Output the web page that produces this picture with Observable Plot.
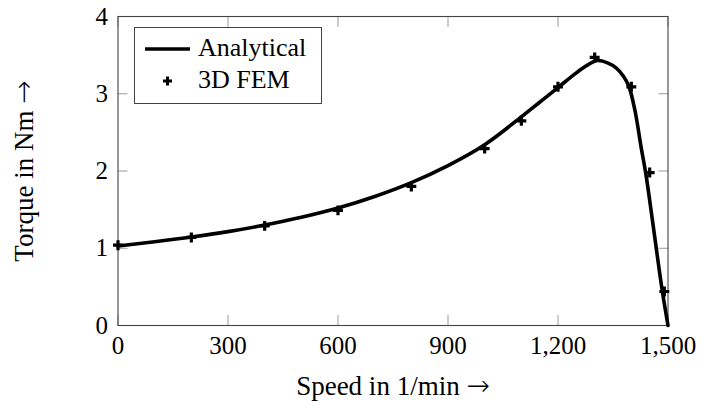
<!DOCTYPE html>
<html>
<head>
<meta charset="utf-8">
<script src="https://cdn.jsdelivr.net/npm/d3@7"></script>
<script src="https://cdn.jsdelivr.net/npm/@observablehq/plot@0.6"></script>
<style>
  html, body { margin: 0; padding: 0; background: white; }
  #wrap { position: relative; width: 716px; height: 401px; }
  #legend { position: absolute; left: 134px; top: 27px; }
</style>
</head>
<body>
<div id="wrap"></div>
<script>
// Analytical curve
const curveSpeed  = [0, 100, 200, 300, 400, 500, 600, 700, 800, 900, 1000, 1100, 1150, 1200, 1250, 1280, 1307, 1335, 1360, 1378, 1393, 1410, 1427, 1440, 1455, 1470, 1485, 1500];
const curveTorque = [1.03, 1.085, 1.145, 1.215, 1.30, 1.40, 1.52, 1.67, 1.85, 2.07, 2.34, 2.70, 2.89, 3.08, 3.27, 3.37, 3.43, 3.40, 3.33, 3.23, 3.10, 2.78, 2.30, 1.95, 1.45, 0.93, 0.43, 0];

// 3D FEM points
const femSpeed  = [0, 200, 400, 600, 800, 1000, 1100, 1200, 1300, 1400, 1450, 1490];
const femTorque = [1.04, 1.14, 1.29, 1.49, 1.80, 2.29, 2.65, 3.09, 3.47, 3.09, 1.98, 0.44];

const xTicks = [0, 300, 600, 900, 1200, 1500];
const yTicks = [0, 1, 2, 3, 4];
const xLabel = "Speed in 1/min →";
const yLabel = "Torque in Nm →";
const seriesNames = ["Analytical", "3D FEM"];

const curve = curveSpeed.map((s, i) => ({speed: s, torque: curveTorque[i]}));
const fem = femSpeed.map((s, i) => ({speed: s, torque: femTorque[i]}));

const font = "'Liberation Serif', 'Times New Roman', serif";
const fmt = d3.format(",");

const chart = Plot.plot({
  width: 716,
  height: 401,
  marginLeft: 117.5,
  marginRight: 48.5,
  marginTop: 16,
  marginBottom: 76,
  style: {fontFamily: font, fontSize: "25px", background: "white", color: "black"},
  x: {domain: [0, 1500]},
  y: {domain: [0, 4]},
  marks: [
    // inward ticks on all four sides
    Plot.axisX(xTicks, {anchor: "bottom", tickSize: -10, stroke: "#999", tickFormat: () => "", label: null}),
    Plot.axisX(xTicks, {anchor: "top", tickSize: -10, stroke: "#999", tickFormat: () => "", label: null}),
    Plot.axisY(yTicks, {anchor: "left", tickSize: -10, stroke: "#999", tickFormat: () => "", label: null}),
    Plot.axisY(yTicks, {anchor: "right", tickSize: -10, stroke: "#999", tickFormat: () => "", label: null}),
    // tick labels + axis labels
    Plot.axisX(xTicks, {anchor: "bottom", tickSize: 0, tickPadding: 11, tickFormat: fmt, fontSize: 25,
      label: xLabel, labelAnchor: "center", labelArrow: "none", labelOffset: 69}),
    Plot.axisY(yTicks, {anchor: "left", tickSize: 0, tickPadding: 10, tickFormat: d => String(d), fontSize: 25,
      label: yLabel, labelAnchor: "center", labelArrow: "none", labelOffset: 104}),
    Plot.frame({stroke: "#444", strokeWidth: 1.1}),
    Plot.line(curve, {x: "speed", y: "torque", stroke: "black", strokeWidth: 3.6, curve: "catmull-rom"}),
    Plot.dot(fem, {x: "speed", y: "torque", symbol: "plus", r: 3.3, stroke: "black", strokeWidth: 3.2})
  ]
});

// Axis labels: slightly larger text and a wider, thin arrow glyph
const SVGNS = "http://www.w3.org/2000/svg";
chart.querySelectorAll("text").forEach(t => {
  const s = t.textContent;
  if (s === xLabel || s === yLabel) {
    t.textContent = s.slice(0, -1);
    t.setAttribute("font-size", "27");
    const ts = document.createElementNS(SVGNS, "tspan");
    ts.setAttribute("font-family", "'DejaVu Sans ExtraLight', 'DejaVu Sans'");
    ts.setAttribute("font-weight", "200");
    ts.setAttribute("font-size", "28");
    ts.textContent = "→";
    t.appendChild(ts);
  }
});

const wrap = document.getElementById("wrap");
wrap.appendChild(chart);

// Legend
const legend = document.createElement("div");
legend.id = "legend";
legend.innerHTML = `
<svg width="188" height="77" xmlns="http://www.w3.org/2000/svg" style="font-family:${font};font-size:26px">
  <rect x="0.5" y="0.5" width="187" height="76" fill="white" stroke="#444" stroke-width="1"/>
  <line x1="11" y1="22" x2="56" y2="22" stroke="black" stroke-width="3.6"/>
  <text x="64" y="29" fill="black">${seriesNames[0]}</text>
  <path d="M33.5,49.5v9M29,54h9" stroke="black" stroke-width="3" fill="none"/>
  <text x="64" y="61" fill="black">${seriesNames[1]}</text>
</svg>`;
wrap.appendChild(legend);
</script>
</body>
</html>
